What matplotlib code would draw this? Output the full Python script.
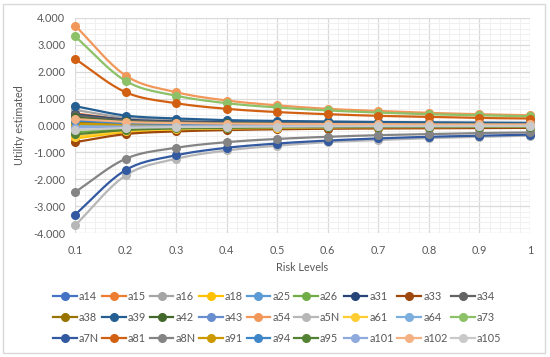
import matplotlib.pyplot as plt
import numpy as np
from matplotlib.patches import Rectangle
from matplotlib.ticker import MultipleLocator, FuncFormatter

plt.rcParams['font.family'] = ['Lato', 'DejaVu Sans']

risk = [0.1, 0.2, 0.3, 0.4, 0.5, 0.6, 0.7, 0.8, 0.9, 1.0]

names = ['a14', 'a15', 'a16', 'a18', 'a25', 'a26', 'a31', 'a33', 'a34',
         'a38', 'a39', 'a42', 'a43', 'a54', 'a5N', 'a61', 'a64', 'a73',
         'a7N', 'a81', 'a8N', 'a91', 'a94', 'a95', 'a101', 'a102', 'a105']

colors = ['#4472C4', '#ED7D31', '#A5A5A5', '#FFC000', '#5B9BD5', '#70AD47',
          '#264478', '#9E480E', '#636363', '#997300', '#255E91', '#43682B',
          '#698ED0', '#F1975A', '#B7B7B7', '#FFCD33', '#7CAFDD', '#8CC168',
          '#335AA1', '#D26012', '#848484', '#CC9A00', '#3E86C8', '#548235',
          '#8FAADC', '#F4B183', '#C9C9C9']

a14 = [0.15, 0.08, 0.05, 0.04, 0.03, 0.03, 0.02, 0.02, 0.02, 0.02]
a15 = [0.45, 0.23, 0.16, 0.12, 0.10, 0.08, 0.07, 0.07, 0.06, 0.06]
a16 = [0.58, 0.29, 0.20, 0.15, 0.12, 0.10, 0.09, 0.08, 0.07, 0.06]
a18 = [-0.48, -0.25, -0.17, -0.13, -0.10, -0.09, -0.08, -0.07, -0.06, -0.06]
a25 = [0.05, 0.03, 0.02, 0.01, 0.01, 0.01, 0.01, 0.01, 0.01, 0.01]
a26 = [-0.25, -0.13, -0.09, -0.07, -0.05, -0.05, -0.04, -0.04, -0.03, -0.03]
a31 = [0.42, 0.22, 0.15, 0.12, 0.10, 0.09, 0.08, 0.07, 0.06, 0.06]
a33 = [-0.62, -0.32, -0.22, -0.17, -0.14, -0.12, -0.11, -0.10, -0.09, -0.09]
a34 = [0.38, 0.19, 0.13, 0.10, 0.08, 0.07, 0.06, 0.05, 0.05, 0.04]
a38 = [0.10, 0.05, 0.04, 0.03, 0.02, 0.02, 0.02, 0.02, 0.01, 0.01]
a39 = [0.72, 0.37, 0.26, 0.20, 0.17, 0.15, 0.13, 0.12, 0.11, 0.10]
a42 = [0.30, 0.15, 0.10, 0.08, 0.06, 0.05, 0.05, 0.04, 0.04, 0.03]
a43 = [-0.05, -0.03, -0.02, -0.01, -0.01, -0.01, -0.01, -0.01, -0.01, -0.01]
a54 = [3.72, 1.86, 1.24, 0.93, 0.75, 0.62, 0.54, 0.47, 0.42, 0.38]
a5N = [-3.72, -1.86, -1.24, -0.93, -0.75, -0.62, -0.54, -0.47, -0.42, -0.38]
a61 = [-0.42, -0.21, -0.14, -0.11, -0.09, -0.07, -0.06, -0.06, -0.05, -0.05]
a64 = [0.00, 0.00, 0.00, 0.00, 0.00, 0.00, 0.00, 0.00, 0.00, 0.00]
a73 = [3.32, 1.66, 1.11, 0.83, 0.67, 0.56, 0.48, 0.42, 0.38, 0.34]
a7N = [-3.32, -1.66, -1.11, -0.83, -0.67, -0.56, -0.48, -0.42, -0.38, -0.34]
a81 = [2.48, 1.24, 0.83, 0.62, 0.50, 0.42, 0.36, 0.32, 0.28, 0.26]
a8N = [-2.48, -1.24, -0.83, -0.62, -0.50, -0.42, -0.36, -0.32, -0.28, -0.26]
a91 = [0.06, 0.03, 0.02, 0.02, 0.01, 0.01, 0.01, 0.01, 0.01, 0.01]
a94 = [0.18, 0.09, 0.06, 0.05, 0.04, 0.03, 0.03, 0.03, 0.02, 0.02]
a95 = [-0.33, -0.17, -0.11, -0.09, -0.07, -0.06, -0.05, -0.05, -0.04, -0.04]
a101 = [-0.08, -0.04, -0.03, -0.02, -0.02, -0.02, -0.01, -0.01, -0.01, -0.01]
a102 = [0.24, 0.13, 0.09, 0.07, 0.06, 0.05, 0.05, 0.04, 0.04, 0.04]
a105 = [-0.17, -0.09, -0.06, -0.05, -0.04, -0.03, -0.03, -0.03, -0.02, -0.02]

series = [a14, a15, a16, a18, a25, a26, a31, a33, a34,
          a38, a39, a42, a43, a54, a5N, a61, a64, a73,
          a7N, a81, a8N, a91, a94, a95, a101, a102, a105]


def smooth(x, y, n=20):
    # catmull-rom through the points, like excel's smoothed line
    x = np.asarray(x, float)
    y = np.asarray(y, float)
    px = np.concatenate([[2 * x[0] - x[1]], x, [2 * x[-1] - x[-2]]])
    py = np.concatenate([[2 * y[0] - y[1]], y, [2 * y[-1] - y[-2]]])
    xs, ys = [], []
    t = np.linspace(0, 1, n, endpoint=False)
    for i in range(1, len(px) - 2):
        for p, out in ((px, xs), (py, ys)):
            p0, p1, p2, p3 = p[i - 1], p[i], p[i + 1], p[i + 2]
            out.extend(0.5 * (2 * p1 + (-p0 + p2) * t
                              + (2 * p0 - 5 * p1 + 4 * p2 - p3) * t ** 2
                              + (-p0 + 3 * p1 - 3 * p2 + p3) * t ** 3))
    xs.append(x[-1])
    ys.append(y[-1])
    return xs, ys


fig = plt.figure(figsize=(5.5, 3.57), dpi=100)
ax = fig.add_axes([75 / 550, 1 - 233 / 357, 455 / 550, 215 / 357])

txt = '#595959'
fs = 7.8
handles = []
for name, col, vals in zip(names, colors, series):
    sx, sy = smooth(risk, vals)
    ax.plot(sx, sy, color=col, lw=1.6, clip_on=False, zorder=3)
    ax.plot(risk, vals, 'o', color=col, ms=5.5, clip_on=False, zorder=3)
    h, = ax.plot([], [], '-o', color=col, lw=1.6, ms=5.5, label=name)
    handles.append(h)

ax.set_xlim(0.1, 1)
ax.set_ylim(-4, 4)
ax.xaxis.set_major_locator(MultipleLocator(0.1))
ax.xaxis.set_minor_locator(MultipleLocator(0.02))
ax.yaxis.set_major_locator(MultipleLocator(1))
ax.yaxis.set_minor_locator(MultipleLocator(0.2))
ax.xaxis.set_major_formatter(FuncFormatter(lambda v, p: '%g' % round(v, 1)))
ax.yaxis.set_major_formatter(FuncFormatter(lambda v, p: '%.3f' % v))
ax.grid(True, which='major', color='#D9D9D9', lw=0.9, zorder=0)
ax.grid(True, which='minor', color='#F0F0F0', lw=0.7, zorder=0)
ax.set_axisbelow(True)
for s in ax.spines.values():
    s.set_visible(False)
ax.tick_params(which='both', length=0, labelsize=fs, colors=txt)
ax.tick_params(axis='x', pad=9)
ax.tick_params(axis='y', pad=7)
ax.set_xlabel('Risk Levels', fontsize=fs, color=txt, labelpad=4)
ax.set_ylabel('Utility estimated', fontsize=fs, color=txt, labelpad=6)

# excel fills legend row by row, matplotlib column by column
ncol = 9
order = [r * ncol + c for c in range(ncol) for r in range(3)]
fig.legend([handles[i] for i in order], [names[i] for i in order],
           loc='center', bbox_to_anchor=(277 / 550, 1 - 317.5 / 357),
           ncol=ncol, frameon=False, fontsize=fs, labelcolor=txt,
           handlelength=2.2, handletextpad=0.2, columnspacing=0.3,
           labelspacing=0.95, borderpad=0)

fig.patches.append(Rectangle((3 / 550, 4 / 357), 542 / 550, 349 / 357,
                             transform=fig.transFigure, fill=False,
                             edgecolor='#D9D9D9', lw=1))

fig.savefig('out.png', dpi=100)
